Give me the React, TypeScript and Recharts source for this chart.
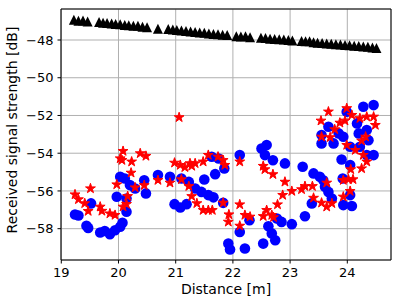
import { ScatterChart, Scatter, XAxis, YAxis, CartesianGrid, ReferenceLine, Symbols } from 'recharts';

// distance [m] / received signal strength [dB]
const triDist = [
  19.22, 19.30, 19.38, 19.46,
  19.66, 19.73, 19.80, 19.88, 19.95, 20.03, 20.11, 20.18, 20.26, 20.34, 20.42, 20.50,
  20.69,
  20.87, 20.95, 21.02, 21.10, 21.18, 21.26, 21.34, 21.42, 21.50, 21.58, 21.66, 21.74, 21.82, 21.90,
  22.06, 22.14, 22.22, 22.30,
  22.49, 22.57, 22.65, 22.73, 22.81, 22.89, 22.97, 23.04,
  23.20, 23.27, 23.34, 23.41, 23.48, 23.56, 23.64, 23.72, 23.80, 23.88, 23.96, 24.04, 24.12, 24.20, 24.28, 24.36, 24.44, 24.51,
];
const triRss = [
  -46.93, -46.98, -46.96, -47.02,
  -47.05, -47.08, -47.10, -47.12, -47.15, -47.17, -47.20, -47.22, -47.25, -47.24, -47.30, -47.33,
  -47.40,
  -47.42, -47.45, -47.47, -47.50, -47.52, -47.55, -47.57, -47.60, -47.62, -47.65, -47.68, -47.70, -47.72, -47.74,
  -47.80, -47.82, -47.80, -47.85,
  -47.88, -47.90, -47.93, -47.95, -47.96, -47.98, -48.00, -48.02,
  -48.05, -48.07, -48.06, -48.12, -48.14, -48.16, -48.18, -48.20, -48.22, -48.24, -48.26, -48.28, -48.30, -48.32, -48.35, -48.36, -48.40, -48.42,
];

const dotDist = [
  19.24, 19.30, 19.44, 19.47, 19.52, 19.68, 19.76, 19.85, 19.94, 20.03, 20.07, 19.97, 20.03, 20.11, 20.14, 20.14,
  20.20, 20.29, 20.45, 20.48, 20.69, 20.90, 20.98, 21.08, 21.19, 21.10, 21.23, 21.34, 21.45, 21.57, 21.66, 21.50,
  21.69, 21.63, 21.75, 21.85, 21.83, 21.92, 21.95, 22.12, 22.12, 22.21, 22.29, 22.50, 22.59, 22.56, 22.70, 22.62,
  22.68, 22.74, 22.53, 22.77, 22.85, 23.03, 22.91, 23.22, 23.26, 23.41, 23.52, 23.58, 23.61, 23.67, 23.73, 23.38,
  23.93, 24.08, 24.05, 23.90, 24.05, 23.92,
  23.55, 23.55, 23.76, 23.67, 23.99, 24.28, 24.46, 23.85, 24.17, 24.34, 24.37, 24.22, 24.46, 24.34, 24.05, 23.93, 24.20,
];
const dotRss = [
  -57.25, -57.30, -57.85, -57.96, -56.66, -58.20, -58.12, -58.29, -58.08, -57.90, -57.69, -56.31, -55.25, -55.34, -56.40, -57.10,
  -55.69, -55.87, -55.43, -56.13, -55.16, -55.25, -56.70, -56.88, -56.70, -55.34, -55.52, -55.87, -56.05, -56.22, -56.34, -55.39,
  -55.11, -54.19, -54.28, -54.81, -56.63, -58.79, -59.10, -54.10, -58.17, -59.05, -57.55, -53.75, -53.57, -54.10, -54.37, -57.87,
  -58.25, -58.61, -58.79, -57.46, -57.64, -57.76, -54.54, -54.72, -57.34, -55.07, -55.25, -55.43, -55.78, -56.05, -56.40, -56.66,
  -56.75, -56.80, -56.22, -54.33, -54.63, -55.34,
  -53.04, -53.48, -53.48, -52.60, -51.80, -51.54, -51.45, -52.95, -52.42, -52.77, -53.31, -53.66, -54.10, -54.10, -53.66, -53.13, -52.95,
];

const starDist = [
  21.06, 19.24, 19.30, 19.51, 19.41, 19.47, 19.68, 19.71, 19.85, 19.94, 19.97, 20.03, 20.06, 20.08, 20.23, 20.22,
  20.16, 20.08, 20.14, 20.29, 20.38, 20.48, 20.45, 20.69, 20.90, 20.98, 21.08, 21.16, 21.25, 21.28, 21.34, 21.48,
  21.57, 21.74, 21.83, 21.86, 21.10, 21.23, 21.28, 21.37, 21.48, 21.57, 21.64, 21.83, 21.93, 21.92, 22.12, 22.12,
  22.12, 22.21, 22.30, 22.53, 22.56, 22.70, 22.59, 22.53, 22.68, 22.71, 22.78, 22.87, 22.91, 23.03, 23.20, 23.26,
  23.39, 23.41, 23.55, 23.64, 23.73, 23.64, 23.93, 24.02, 24.10, 23.93, 24.05, 24.06, 24.25, 24.34,
  23.67, 23.54, 23.78, 23.70, 23.55, 23.87, 23.96, 23.99, 24.08, 24.22, 24.34, 24.46, 24.49, 24.32, 24.25, 24.14, 23.99, 24.28,
];
const starRss = [
  -52.10, -56.19, -56.45, -55.87, -56.66, -57.07, -56.84, -57.06, -57.20, -57.28, -55.66, -54.28, -54.37, -53.89, -54.45, -55.04,
  -56.28, -56.84, -56.70, -55.82, -54.01, -54.15, -55.70, -55.43, -55.57, -54.51, -54.63, -54.75, -54.54, -54.68, -54.54, -54.45,
  -54.10, -54.19, -54.37, -54.63, -55.39, -55.75, -56.28, -56.66, -57.02, -57.02, -57.02, -56.63, -57.25, -57.64, -54.45, -57.85,
  -56.72, -57.28, -57.37, -54.68, -54.86, -55.12, -57.02, -57.34, -57.28, -57.40, -56.72, -56.22, -55.52, -56.01, -55.92, -55.75,
  -55.75, -56.37, -56.63, -56.84, -56.66, -55.57, -55.43, -55.39, -55.39, -56.31, -56.01, -54.86, -54.81, -54.45,
  -51.80, -52.28, -52.74, -53.16, -53.13, -52.39, -52.28, -51.62, -51.98, -52.15, -52.07, -52.07, -52.51, -53.13, -53.34, -53.84, -53.57, -54.10,
];

const xTicks = [19, 20, 21, 22, 23, 24];
const yTicks = [-58, -56, -54, -52, -50, -48];
const xDomain: [number, number] = [18.995, 24.764];
const yDomain: [number, number] = [-59.66, -46.357];

const toPoints = (xs: number[], ys: number[]) => xs.map((d, i) => ({ d, rss: ys[i] }));

const font = "'DejaVu Sans', sans-serif";
const tickStyle = { fill: '#000', fontSize: 13, fontFamily: font };

// matplotlib-style '^' : square bounding box, centred on the point
// eslint-disable-next-line @typescript-eslint/no-explicit-any
const Tri = (p: any) => {
  const h = 5;
  return <polygon points={`${p.cx},${p.cy - h} ${p.cx - h},${p.cy + h} ${p.cx + h},${p.cy + h}`} fill="#000" />;
};
// eslint-disable-next-line @typescript-eslint/no-explicit-any
const Dot = (p: any) => <circle cx={p.cx} cy={p.cy} r={5.3} fill="#0000ff" />;
// eslint-disable-next-line @typescript-eslint/no-explicit-any
const Star = (p: any) => (
  <Symbols cx={p.cx} cy={p.cy} type="star" size={30} fill="#ff0000" stroke="#ff0000" strokeWidth={1} strokeLinejoin="round" />
);

export default function App() {
  return (
    <div style={{ position: 'absolute', left: 0, top: 0, width: 399, height: 298, background: '#fff' }}>
      <ScatterChart width={399} height={298} margin={{ top: 9, right: 8, bottom: 0, left: 0 }}>
        <CartesianGrid stroke="#b0b0b0" strokeWidth={1} />
        <XAxis
          type="number" dataKey="d" domain={xDomain} ticks={xTicks} allowDataOverflow
          height={38} tick={tickStyle} tickSize={3.5} tickMargin={4}
          axisLine={{ stroke: '#000' }} tickLine={{ stroke: '#000' }}
        />
        <YAxis
          type="number" dataKey="rss" domain={yDomain} ticks={yTicks} allowDataOverflow
          width={61} tick={tickStyle} tickSize={3.5} tickMargin={4}
          tickFormatter={(v: number) => `\u2212${Math.abs(v)}`}
          axisLine={{ stroke: '#000' }} tickLine={{ stroke: '#000' }}
        />
        <ReferenceLine y={yDomain[1]} stroke="#000" />
        <ReferenceLine x={xDomain[1]} stroke="#000" />
        <Scatter data={toPoints(triDist, triRss)} shape={Tri} isAnimationActive={false} />
        <Scatter data={toPoints(dotDist, dotRss)} shape={Dot} isAnimationActive={false} />
        <Scatter data={toPoints(starDist, starRss)} shape={Star} isAnimationActive={false} />
      </ScatterChart>
      <svg width={399} height={298} style={{ position: 'absolute', left: 0, top: 0, pointerEvents: 'none' }}>
        <text x={226} y={294} textAnchor="middle" fontSize={14} fontFamily={font} fill="#000">Distance [m]</text>
        <text x={17} y={130} textAnchor="middle" fontSize={14} fontFamily={font} fill="#000" transform="rotate(-90 17 130)">
          Received signal strength [dB]
        </text>
      </svg>
    </div>
  );
}
